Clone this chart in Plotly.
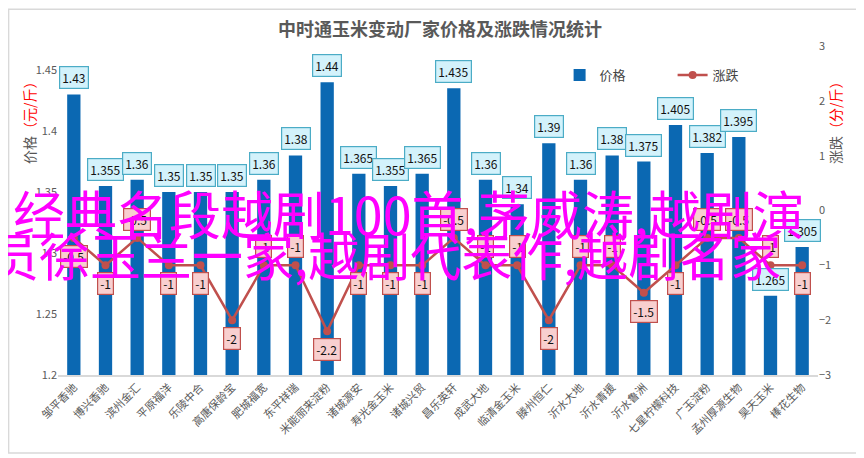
import plotly.graph_objects as go

factories = ["邹平香驰", "博兴香驰", "滨州金汇", "平原福洋", "乐陵中合", "高唐保龄宝",
             "肥城福宽", "东平祥瑞", "米能丽来淀粉", "诸城源安", "寿光金玉米", "诸城兴贸",
             "昌乐英轩", "成武大地", "临清金玉米", "滕州恒仁", "沂水大地", "沂水青援",
             "沂水鲁洲", "七星柠檬科技", "广玉淀粉", "孟州厚源生物", "昊天玉米", "棒花生物"]
price = [1.43, 1.355, 1.36, 1.35, 1.35, 1.35, 1.36, 1.38, 1.44, 1.365, 1.355, 1.365,
         1.435, 1.36, 1.34, 1.39, 1.36, 1.38, 1.375, 1.405, 1.382, 1.395, 1.265, 1.305]
change = [-0.5, -1, -0.5, -1, -1, -2, -1, -1, -2.2, -1, -1, -1,
          -0.5, -1, -1, -2, -1, -1, -1.5, -1, -0.5, -0.5, -1, -1]
# where the 涨跌 label sits: 1 = above the point, -1 = below
change_label_side = [-1, -1, 1, -1, -1, -1, 1, 1, -1, -1, -1, -1,
                     1, 1, 1, -1, 1, 1, -1, -1, 1, 1, 1, -1]

fig = go.Figure()
fig.add_trace(go.Bar(x=factories, y=price, name="价格", width=0.42,
                     marker=dict(color="#0b68b2", line=dict(width=0))))
fig.add_trace(go.Scatter(x=factories, y=change, name="涨跌", yaxis="y2", mode="lines+markers",
                         line=dict(color="#c0504d", width=2.5),
                         marker=dict(color="#c0504d", size=8)))

ann = []
for f, p in zip(factories, price):
    ann.append(dict(x=f, y=p, xref="x", yref="y", text=str(p), showarrow=False,
                    yanchor="bottom", yshift=5, font=dict(size=12, color="#111"),
                    bgcolor="#d3f2fb", bordercolor="#4bacc6", borderwidth=1.2, borderpad=2))
for f, c, s in zip(factories, change, change_label_side):
    ann.append(dict(x=f, y=c, xref="x", yref="y2", text=str(c), showarrow=False,
                    yanchor="bottom" if s > 0 else "top", yshift=7 * s,
                    font=dict(size=12, color="#111"),
                    bgcolor="#f8cfcf", bordercolor="#c0504d", borderwidth=1.2, borderpad=2))

# axis titles
ann.append(dict(x=-0.053, y=0.92, xref="paper", yref="paper", textangle=-90, showarrow=False,
                text="价格<span style='color:red'>（元/斤）</span>",
                font=dict(size=14, color="#555")))
ann.append(dict(x=1.039, y=0.92, xref="paper", yref="paper", textangle=-90, showarrow=False,
                text="涨跌<span style='color:red'>（分/斤）</span>",
                font=dict(size=14, color="#555")))

# overlay text
ann.append(dict(x=0.462, y=0.495, xref="paper", yref="paper", showarrow=False,
                text="经典名段越剧100首,茅威涛,越剧演",
                font=dict(size=52, color="#ff00ff", family="Noto Sans CJK SC")))
ann.append(dict(x=0.43, y=0.368, xref="paper", yref="paper", showarrow=False,
                text="员徐玉兰一家,越剧代表作,越剧名家",
                font=dict(size=51, color="#ff00ff", family="Noto Sans CJK SC")))

fig.update_layout(
    width=864, height=458,
    margin=dict(l=50, r=54, t=38, b=91, autoexpand=False),
    paper_bgcolor="white", plot_bgcolor="white",
    font=dict(family="Noto Sans CJK SC", color="#595959"),
    title=dict(text="<b>中时通玉米变动厂家价格及涨跌情况统计</b>", x=0.5, xanchor="center",
               y=0.952, yanchor="middle", font=dict(size=18, color="#595959")),
    showlegend=True,
    legend=dict(orientation="h", x=0.66, y=0.912, xanchor="left", yanchor="middle",
                font=dict(size=13, color="#444"), bgcolor="rgba(0,0,0,0)",
                itemwidth=30, entrywidth=68),
    xaxis=dict(range=[-0.5, 23.5], tickangle=-45, tickfont=dict(size=11, color="#595959"),
               showline=True, linecolor="#d9d9d9", linewidth=1.5, showgrid=False, ticks="",
               automargin=False),
    yaxis=dict(range=[1.2, 1.4697], tickvals=[1.2, 1.25, 1.3, 1.35, 1.4, 1.45],
               ticktext=["1.2", "1.25", "1.3", "1.35", "1.4", "1.45"], automargin=False,
               showgrid=False, zeroline=False, tickfont=dict(size=11, color="#595959")),
    yaxis2=dict(range=[-3, 3], dtick=1, overlaying="y", side="right", showgrid=False,
                zeroline=False, automargin=False, tickfont=dict(size=11, color="#595959")),
    annotations=ann,
    shapes=[dict(type="rect", xref="paper", yref="paper", x0=-0.065, x1=1.054,
                 y0=-0.237, y1=1.112, line=dict(color="#d9d9d9", width=1.5))],
)

fig.write_html("out.html")
